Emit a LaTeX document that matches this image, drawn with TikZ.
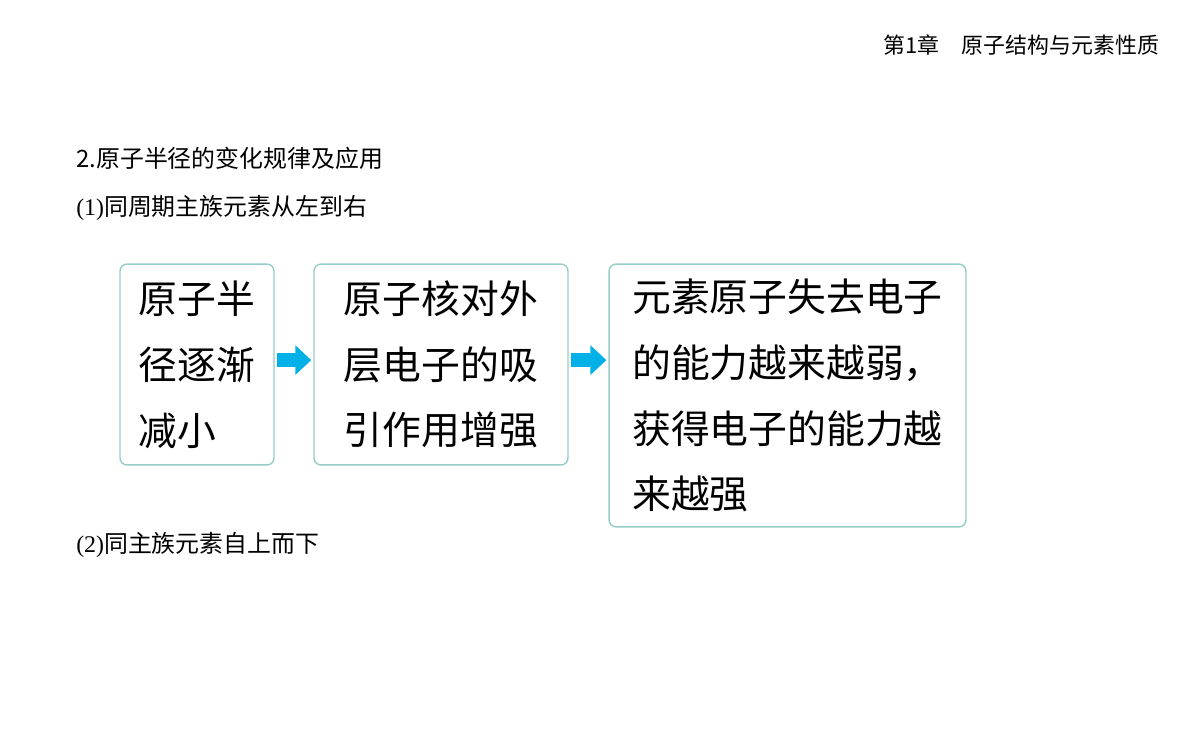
\documentclass[tikz,border=0pt]{standalone}
\usepackage{fontspec}
\setmainfont{Liberation Serif}
\newfontfamily\cjk{Noto Sans CJK SC}
\usetikzlibrary{arrows.meta, positioning}
\definecolor{boxline}{RGB}{150,205,200}
\definecolor{arrowcyan}{RGB}{0,176,230}

\begin{document}
\begin{tikzpicture}[x=0.025cm, y=-0.025cm,
    box/.style={rectangle, rounded corners=5pt, draw=boxline, line width=1pt, align=left, inner sep=0pt, font=\cjk\fontsize{27.6}{46.8}\selectfont},
    arrow/.style={-{Triangle[length=0.4cm, width=0.72cm]}, arrowcyan, line width=0.35cm, shorten <=0.05cm, shorten >=0.05cm}
]
\useasboundingbox (0,0) rectangle (1200,745);

\node[anchor=east, font=\cjk\fontsize{15.6}{18}\selectfont] (chapter) at (1164,45) {第1章\quad 原子结构与元素性质};
\node[anchor=west, font=\cjk\fontsize{17}{20}\selectfont, inner sep=0pt] (title) at (76,158) {2.原子半径的变化规律及应用};
\node[anchor=west, font=\fontsize{17}{20}\selectfont, inner sep=0pt] (step1) at (76,208) {(1){\cjk 同周期主族元素从左到右}};
\node[anchor=west, font=\fontsize{17}{20}\selectfont, inner sep=0pt] (step2) at (76,545) {(2){\cjk 同主族元素自上而下}};

\node[box, minimum width=3.85cm, minimum height=5.02cm] (radius) at (197,364.5) {原子半\\径逐渐\\减小};
\node[box, minimum width=6.35cm, minimum height=5.02cm] (nucleus) at (441,364.5) {原子核对外\\层电子的吸\\引作用增强};
\node[box, minimum width=8.92cm, minimum height=6.57cm] (ability) at (787.5,395.5) {元素原子失去电子\\的能力越来越弱，\\获得电子的能力越\\来越强};

\draw[arrow] ([yshift=0.11cm]radius.east) -- ([yshift=0.11cm]nucleus.west);
\draw[arrow] ([yshift=0.11cm]nucleus.east) -- ([yshift=0.11cm]nucleus.east -| ability.west);

\end{tikzpicture}
\end{document}
